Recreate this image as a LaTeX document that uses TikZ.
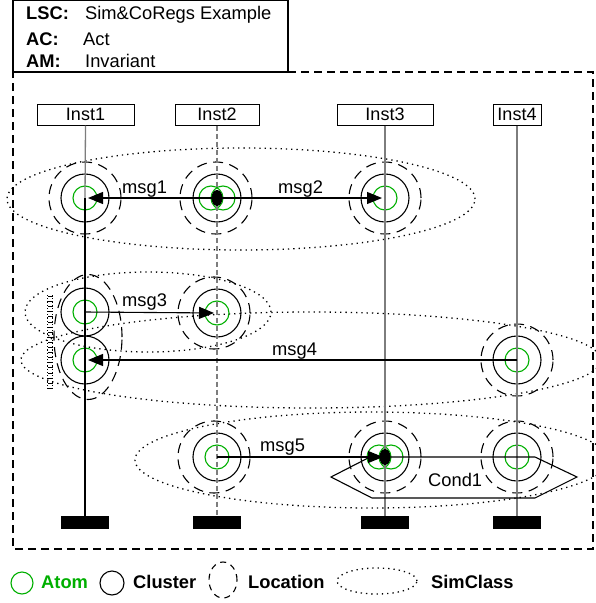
\documentclass[tikz,border=0pt]{standalone}
\usepackage{fontspec}
\setmainfont{Liberation Sans}
\usetikzlibrary{arrows.meta,shapes.geometric}
\definecolor{atomgreen}{RGB}{0,175,0}
\definecolor{lifegray}{RGB}{125,125,125}
\tikzset{
  base/.style={line width=1.1pt},
  atom/.style={draw=atomgreen, line width=1.1pt, circle, minimum size=24pt, inner sep=0pt},
  cluster/.style={draw=black, line width=1.1pt, circle, minimum size=48pt, inner sep=0pt},
  location/.style={draw=black, line width=1.1pt, dash pattern=on 10pt off 6.5pt, circle, minimum size=72pt, inner sep=0pt},
  simclass/.style={draw=black, line width=1.3pt, dash pattern=on 1.3pt off 4pt, ellipse, inner sep=0pt},
  msgline/.style={line width=1.1pt, -{Triangle[length=15pt,width=12pt]}},
  lbl/.style={font=\fontsize{18.3}{21}\selectfont, inner sep=0pt, anchor=base west},
  blbl/.style={font=\fontsize{18.3}{21}\selectfont\bfseries, inner sep=0pt, anchor=base west},
  instbox/.style={draw, line width=1pt, minimum height=21pt, font=\fontsize{18}{21}\selectfont, inner sep=0pt},
  endbar/.style={fill=black, minimum width=48pt, minimum height=13pt, inner sep=0pt},
  lifeline/.style={draw=lifegray, line width=1.3pt},
  hotline/.style={draw=black, line width=2pt},
  coldline/.style={draw=lifegray, line width=1.3pt, dash pattern=on 5pt off 3pt},
  sync/.style={fill=black, ellipse, minimum width=11pt, minimum height=16pt, inner sep=0pt},
  outer/.style={line width=1.1pt, dash pattern=on 8pt off 5pt},
}
\begin{document}
\begin{tikzpicture}[x=1pt,y=-1pt]
\useasboundingbox (0,0) rectangle (596,603);

% header
\draw[line width=1.1pt] (13,0.6) rectangle (288,72);
\node[blbl] (hl1) at (26,19.5) {LSC:};
\node[lbl]  (hv1) at (85,19.5) {Sim\&CoRegs Example};
\node[blbl] (hl2) at (26,45) {AC:};
\node[lbl]  (hv2) at (83,45) {Act};
\node[blbl] (hl3) at (26,67) {AM:};
\node[lbl]  (hv3) at (85,67) {Invariant};
\draw[outer] (288,72) -- (593,72) -- (593,549) -- (13,549) -- (13,72);

% simclasses
\node[simclass, minimum width=468pt, minimum height=102pt] (sc1) at (241,199) {};
\node[simclass, minimum width=246pt, minimum height=80pt] (sc2) at (148,312) {};
\node[simclass, minimum width=580pt, minimum height=96pt] (sc3) at (311,360) {};
\node[simclass, minimum width=474pt, minimum height=96pt] (sc4) at (372,460) {};

% instance heads and ends
\node[instbox, minimum width=97pt] (i1) at (85.5,114.5) {Inst1};
\node[instbox, minimum width=84pt] (i2) at (217,114.5) {Inst2};
\node[instbox, minimum width=96pt] (i3) at (385,114.5) {Inst3};
\node[instbox, minimum width=48pt] (i4) at (517,114.5) {Inst4};
\node[endbar] (e1) at (85,522.5) {};
\node[endbar] (e2) at (217,522.5) {};
\node[endbar] (e3) at (385,522.5) {};
\node[endbar] (e4) at (517,522.5) {};

% location coordinates
\coordinate (l11) at (85,198);
\coordinate (l21) at (217,198);
\coordinate (l31) at (385,198);
\coordinate (l12) at (85,312);
\coordinate (l22) at (217,313);
\coordinate (l13) at (85,360);
\coordinate (l43) at (517,360);
\coordinate (l24) at (217,457);
\coordinate (l34) at (385,457);
\coordinate (l44) at (517,457);

% locations (dashed)
\node[location] (d11) at (85,198) {};
\node[location] (d21) at (216,198) {};
\node[location] (d31) at (385,198) {};
\node[location] (d22) at (214,313) {};
\node[location, ellipse, minimum width=68pt, minimum height=125pt] (d1x) at (88,337) {};
\node[location] (d43) at (517,360) {};
\node[location] (d24) at (214,457) {};
\node[location] (d34) at (385,457) {};
\node[location] (d44) at (517,457) {};

% clusters
\foreach \n in {l11,l21,l31,l12,l22,l13,l43,l24,l34,l44}
  \node[cluster] (c\n) at (\n) {};

% atoms
\node[atom] (a11) at (l11) {};
\node[atom] (a21a) at (211,198) {};
\node[atom] (a21b) at (223,198) {};
\node[atom] (a31) at (l31) {};
\node[atom] (a12) at (l12) {};
\node[atom] (a22) at (l22) {};
\node[atom] (a13) at (l13) {};
\node[atom] (a43) at (l43) {};
\node[atom] (a24) at (l24) {};
\node[atom] (a34a) at (379,457) {};
\node[atom] (a34b) at (391,457) {};
\node[atom] (a44) at (l44) {};

% coregion marker
\draw[line width=0.9pt, dash pattern=on 1.2pt off 2pt] (47.5,295) -- (47.5,390);
\draw[line width=0.9pt, dash pattern=on 1.2pt off 2pt] (52.5,295) -- (52.5,390);
\draw[line width=5pt, dash pattern=on 0.6pt off 4.5pt] (50,296) -- (50,390);

% lifelines
\draw[lifeline] (i1.south) -- (l11);
\draw[hotline] (l11) -- (e1.north);
\draw[coldline] (i2.south) -- (e2.north);
\draw[lifeline] (i3.south) -- (e3.north);
\draw[lifeline] (i4.south) -- (e4.north);

% condition
\draw[base] (331,477) -- (370,457) -- (535,457) -- (577,477) -- (535,498) -- (372,498) -- cycle;
\node[lbl] (cond1) at (428,486) {Cond1};

% messages
\draw[msgline, shorten >=3pt] (l21) -- (l11);
\draw[msgline, shorten >=3pt] (l21) -- (l31);
\draw[msgline, shorten >=3pt] (l12) -- (l22);
\draw[msgline, shorten >=3pt] (l43) -- (l13);
\draw[msgline, shorten >=2pt] (l24) -- (l34);
\node[lbl] (m1) at (122,193.5) {msg1};
\node[lbl] (m2) at (278,193.5) {msg2};
\node[lbl] (m3) at (122,306) {msg3};
\node[lbl] (m4) at (272,355) {msg4};
\node[lbl] (m5) at (260,451) {msg5};

% sync marks
\node[sync] (s21) at (l21) {};
\node[sync] (s34) at (l34) {};

% legend
\node[atom, minimum size=22pt] (ga) at (22,583) {};
\node[blbl, text=atomgreen] (ta) at (41,588) {Atom};
\node[cluster, minimum size=24pt] (gc) at (112,583) {};
\node[blbl] (tc) at (133,588) {Cluster};
\node[location, ellipse, minimum width=28pt, minimum height=36pt, dash pattern=on 6pt off 5pt] (gl) at (223,580) {};
\node[blbl] (tl) at (248,588) {Location};
\node[simclass, minimum width=80pt, minimum height=26pt] (gs) at (377,581) {};
\node[blbl] (ts) at (431,588) {SimClass};
\end{tikzpicture}
\end{document}
